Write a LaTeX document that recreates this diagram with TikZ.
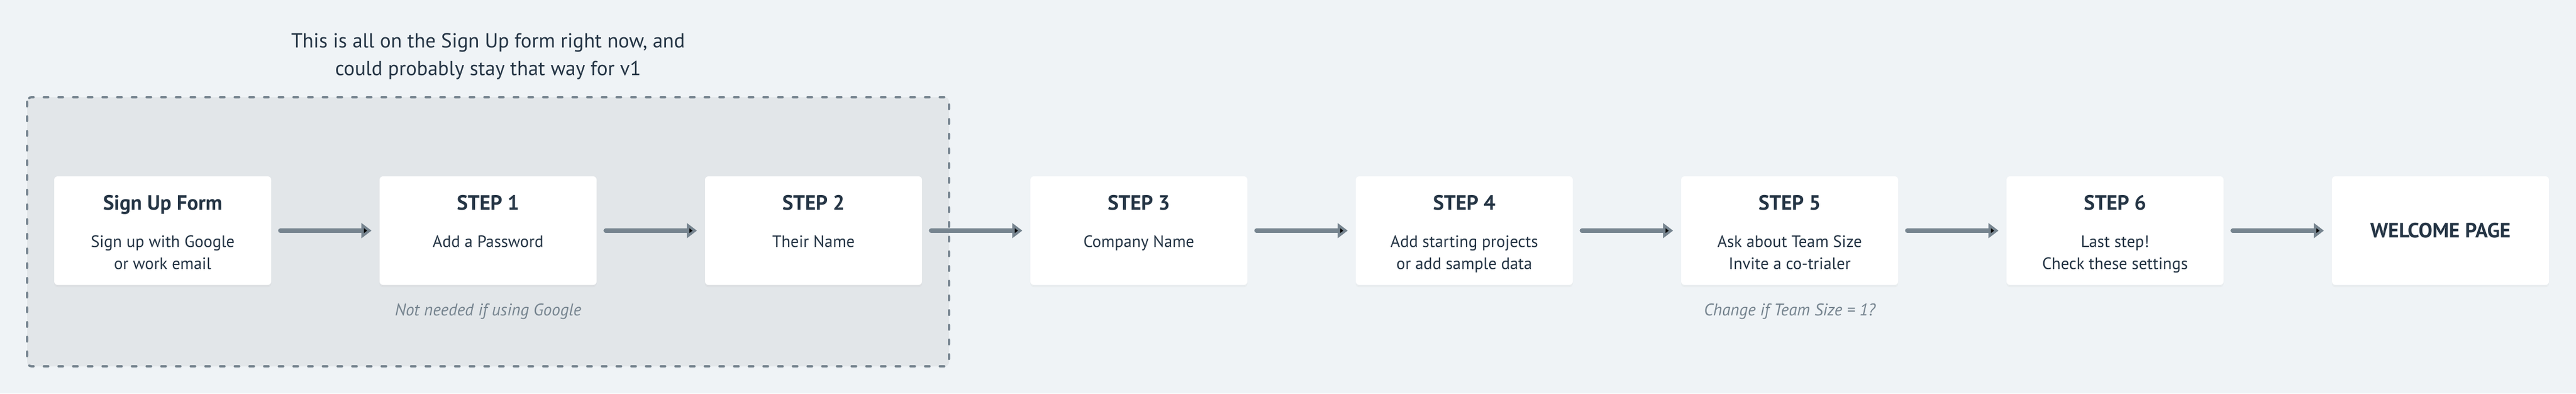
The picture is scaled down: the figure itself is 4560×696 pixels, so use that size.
\documentclass[tikz,border=0pt]{standalone}
\usepackage{fontspec}
\setmainfont{PT Sans}
\usepackage{xcolor}
\usetikzlibrary{positioning,arrows.meta,shadows}
\definecolor{pagebg}{HTML}{EFF3F6}
\definecolor{groupbg}{HTML}{E2E6E9}
\definecolor{slate}{HTML}{76848F}
\definecolor{ink}{HTML}{243444}

\begin{document}
\begin{tikzpicture}[x=0.75pt,y=0.75pt,node distance=432pt,on grid,
    stepbox/.style={rectangle,fill=white,rounded corners=4.5pt,minimum width=288pt,minimum height=144pt,
      drop shadow={shadow xshift=0pt,shadow yshift=-3pt,opacity=0.05}},
    steptitle/.style={anchor=base,text=ink,font=\fontsize{27.5pt}{32pt}\selectfont\bfseries},
    stepbody/.style={anchor=base,text=ink,align=center,font=\fontsize{22pt}{29.5pt}\selectfont},
    stepnote/.style={anchor=base,text=slate,font=\fontsize{22.5pt}{29.5pt}\selectfont\itshape},
    groupnote/.style={anchor=base,text=ink,align=center,font=\fontsize{27pt}{36.75pt}\selectfont},
    groupframe/.style={fill=groupbg,draw=slate,line width=3pt,dash pattern=on 6pt off 13.5pt,line cap=round,rounded corners=6pt},
    flow/.style={draw=slate,line width=6pt,line cap=round,-{Triangle[length=13.5pt,width=19.5pt]},shorten <=12pt,shorten >=10.5pt}]
      \useasboundingbox[fill=pagebg] (0,0) rectangle (4560,-696);
      \draw[groupframe] (48,-172) rectangle (1680,-648);
      % base of a two-line node is its last line
      \node[groupnote] (gnote) at (864,-133) {This is all on the Sign Up form right now, and\\could probably stay that way for v1};
      \node[stepbox] (form) at (288,-408) {};
      \node[stepbox,right =of form] (s1) {};
      \node[stepbox,right =of s1] (s2) {};
      \node[stepbox,right =of s2] (s3) {};
      \node[stepbox,right =of s3] (s4) {};
      \node[stepbox,right =of s4] (s5) {};
      \node[stepbox,right =of s5] (s6) {};
      \node[stepbox,right =of s6,text=ink,font=\fontsize{27.5pt}{32pt}\selectfont\bfseries] (welcome) {WELCOME PAGE};
      \node[steptitle] (formt) at ([yshift=-45pt]form.north) {Sign Up Form};
      \node[steptitle] (s1t) at ([yshift=-45pt]s1.north) {STEP 1};
      \node[steptitle] (s2t) at ([yshift=-45pt]s2.north) {STEP 2};
      \node[steptitle] (s3t) at ([yshift=-45pt]s3.north) {STEP 3};
      \node[steptitle] (s4t) at ([yshift=-45pt]s4.north) {STEP 4};
      \node[steptitle] (s5t) at ([yshift=-45pt]s5.north) {STEP 5};
      \node[steptitle] (s6t) at ([yshift=-45pt]s6.north) {STEP 6};
      \node[stepbody] (formb) at ([yshift=-123.5pt]form.north) {Sign up with Google\\or work email};
      \node[stepbody] (s1b) at ([yshift=-94pt]s1.north) {Add a Password};
      \node[stepbody] (s2b) at ([yshift=-94pt]s2.north) {Their Name};
      \node[stepbody] (s3b) at ([yshift=-94pt]s3.north) {Company Name};
      \node[stepbody] (s4b) at ([yshift=-123.5pt]s4.north) {Add starting projects\\or add sample data};
      \node[stepbody] (s5b) at ([yshift=-123.5pt]s5.north) {Ask about Team Size\\Invite a co-trialer};
      \node[stepbody] (s6b) at ([yshift=-123.5pt]s6.north) {Last step!\\Check these settings};
      \node[stepnote] (s1n) at ([yshift=-40.5pt]s1.south) {Not needed if using Google};
      \node[stepnote] (s5n) at ([yshift=-40.5pt]s5.south) {Change if Team Size = 1?};
      \path[flow]
      (form) edge (s1)
      (s1) edge (s2)
      (s2) edge (s3)
      (s3) edge (s4)
      (s4) edge (s5)
      (s5) edge (s6)
      (s6) edge (welcome)
      ;
    \end{tikzpicture}
\end{document}
